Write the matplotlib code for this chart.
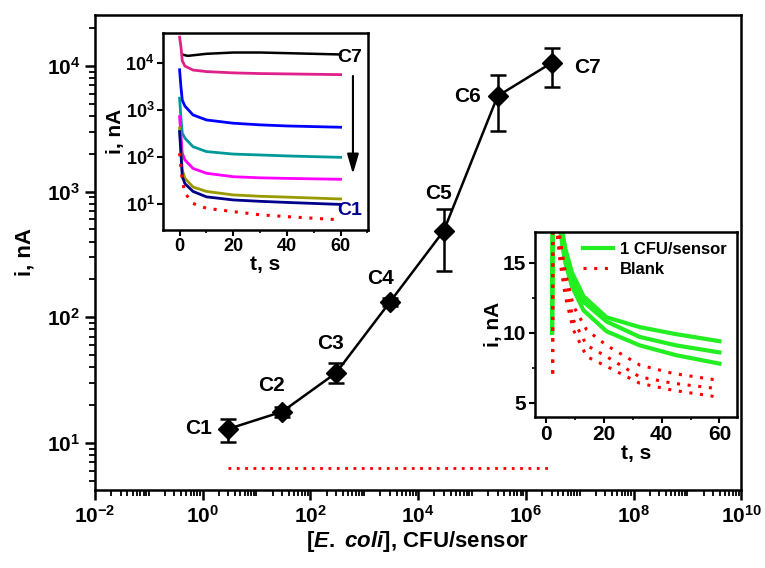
import numpy as np
import matplotlib
matplotlib.use('Agg')
import matplotlib.pyplot as plt
from matplotlib.ticker import FixedLocator, LogLocator, FuncFormatter, NullFormatter, MultipleLocator

plt.rcParams['font.family'] = ['Liberation Sans', 'DejaVu Sans']
plt.rcParams['font.weight'] = 'bold'
plt.rcParams['mathtext.fontset'] = 'custom'
plt.rcParams['mathtext.rm'] = 'Liberation Sans:bold'
plt.rcParams['mathtext.bf'] = 'Liberation Sans:bold'
plt.rcParams['mathtext.it'] = 'Liberation Sans:italic:bold'

# main calibration data
labels = ['C1', 'C2', 'C3', 'C4', 'C5', 'C6', 'C7']
conc = [3, 30, 300, 3e3, 3e4, 3e5, 3e6]
current = [12.9, 17.7, 36, 132, 487, 5750, 10550]
err_lo = [2.7, 1.6, 6, 9, 254, 2720, 3760]
err_hi = [2.6, 1.6, 7, 9, 241, 2720, 3320]
blank_x = [3, 3e6]
blank_y = [6.3, 6.3]

# inset 1: current transients C1..C7 (t in s, i in nA)
t7 = [1, 3, 10, 20, 30, 40, 50, 60]
i7 = [1.5e4, 1.4e4, 1.55e4, 1.65e4, 1.65e4, 1.6e4, 1.55e4, 1.5e4]
t_tr = [0, 0.5, 1, 2, 5, 10, 20, 30, 40, 60]
i6 = [3.5e4, 2.2e4, 1.1e4, 8.5e3, 7.0e3, 6.5e3, 6.1e3, 5.9e3, 5.8e3, 5.6e3]
i5 = [7.1e3, 3.1e3, 1.6e3, 1.2e3, 780, 610, 520, 480, 455, 427]
i4 = [1.77e3, 700, 320, 250, 165, 130, 115, 110, 105, 98]
i3 = [720, 300, 120, 86, 57, 45, 38, 36, 35, 33.5]
i2 = [410, 150, 53, 35, 23, 18.5, 15.6, 14.6, 14, 12.8]
i1 = [345, 120, 38, 27, 18.5, 14.2, 12.2, 11.4, 10.8, 9.8]
i_blank = [120, 60, 32, 17, 10.3, 8.1, 6.9, 5.9, 5.4, 4.6]
tr_colors = ['#e0208a', '#0000ff', '#009999', '#ff00ff', '#999900', '#00008b']

# inset 2: 1 CFU/sensor vs blank
tg = [2, 2.3, 4.5, 5.5, 6.6, 8.9, 12.9, 20.9, 32.4, 45, 60]
g1 = [10, 20, 19, 17.3, 16, 14.3, 12.6, 11.1, 10.4, 9.9, 9.4]
g2 = [10, 20, 18.5, 16.6, 15.3, 13.8, 12.2, 10.8, 9.7, 9.1, 8.6]
g3 = [10, 20, 18, 16.3, 15, 13.3, 11.6, 10.1, 9.1, 8.4, 7.8]
tb = [2.2, 2.3, 4.8, 6.6, 9.4, 14, 20.9, 32.4, 43.9, 60]
b1 = [7.1, 20, 16.7, 14.3, 11.9, 10.2, 9.1, 7.7, 7.1, 6.6]
b2 = [7.1, 20, 15, 12.6, 10.2, 8.3, 7.6, 6.4, 5.9, 5.4]
b3 = [7.1, 20, 16, 13.6, 10.9, 9.1, 8.3, 6.85, 6.4, 6.0]

fig = plt.figure(figsize=(7.65, 5.68), dpi=100)
ax = fig.add_axes([0.124, 0.137, 0.845, 0.837])

ax.errorbar(conc, current, yerr=[err_lo, err_hi], fmt='-D', color='black',
            lw=1.8, ms=10, capsize=6, capthick=1.8, elinewidth=1.8)
ax.plot(blank_x, blank_y, color='red', lw=2, linestyle=(0, (1, 2)))

offsets = [(-12, 0, 'right', 'center'), (-8, 12, 'center', 'bottom'),
           (-4, 14, 'center', 'bottom'), (-7, 10, 'center', 'bottom'),
           (-4, 20, 'center', 'bottom'), (-12, 0, 'right', 'center'),
           (16, -3, 'left', 'center')]
for lab, x, y, (dx, dy, ha, va) in zip(labels, conc, current, offsets):
    ax.annotate(lab, (x, y), xytext=(dx, dy), textcoords='offset points',
                ha=ha, va=va, fontsize=15, fontweight='bold')

ax.set_xscale('log')
ax.set_yscale('log')
ax.set_xlim(1e-2, 1e10)
ax.set_ylim(4.2, 2.55e4)
pow_fmt = FuncFormatter(lambda v, p: r'$\mathbf{10^{%d}}$' % round(np.log10(v)))
ax.xaxis.set_major_locator(FixedLocator([1e-2, 1, 1e2, 1e4, 1e6, 1e8, 1e10]))
ax.xaxis.set_minor_locator(LogLocator(base=10, subs=np.arange(1, 10), numticks=100))
ax.xaxis.set_major_formatter(pow_fmt)
ax.xaxis.set_minor_formatter(NullFormatter())
ax.yaxis.set_major_locator(LogLocator(base=10, numticks=20))
ax.yaxis.set_minor_locator(LogLocator(base=10, subs=np.arange(2, 10), numticks=100))
ax.yaxis.set_major_formatter(pow_fmt)
ax.yaxis.set_minor_formatter(NullFormatter())
ax.tick_params(which='major', direction='out', length=7, width=1.8, labelsize=15)
ax.tick_params(which='minor', direction='out', length=4, width=1.3)
for s in ax.spines.values():
    s.set_linewidth(1.8)
ax.set_xlabel(r'[$\mathit{E.}$ $\mathit{coli}$], CFU/sensor', fontsize=16,
              fontweight='bold', labelpad=2)
ax.set_ylabel('i, nA', fontsize=16, fontweight='bold', labelpad=8)

# inset 1
a1 = fig.add_axes([0.213, 0.595, 0.268, 0.347])
a1.plot(t7, i7, color='black', lw=1.8)
for yy, c in zip([i6, i5, i4, i3, i2, i1], tr_colors):
    a1.plot(t_tr, yy, color=c, lw=2)
a1.plot(t_tr, i_blank, color='red', lw=2.2, linestyle=(0, (1, 2.5)))
a1.set_yscale('log')
a1.set_xlim(-6.2, 70.2)
a1.set_ylim(2.8, 4.3e4)
a1.yaxis.set_major_locator(LogLocator(base=10, numticks=10))
a1.yaxis.set_minor_locator(LogLocator(base=10, subs=np.arange(2, 10), numticks=100))
a1.yaxis.set_major_formatter(pow_fmt)
a1.yaxis.set_minor_formatter(NullFormatter())
a1.xaxis.set_major_locator(MultipleLocator(20))
a1.xaxis.set_minor_locator(MultipleLocator(10))
a1.tick_params(which='major', direction='out', length=4, width=1.5, labelsize=13, pad=2)
a1.tick_params(which='minor', direction='out', length=2, width=1.2)
a1.tick_params(axis='y', which='minor', length=0)
for s in a1.spines.values():
    s.set_linewidth(1.8)
a1.set_xlabel('t, s', fontsize=15, fontweight='bold', labelpad=0)
a1.set_ylabel('i, nA', fontsize=15, fontweight='bold', labelpad=0)
a1.text(63.5, 1.3e4, 'C7', fontsize=14, fontweight='bold', ha='center', va='center')
a1.text(63.5, 7.4, 'C1', fontsize=14, fontweight='bold', ha='center', va='center',
        color='#00008b')
a1.annotate('', xy=(64.6, 38), xytext=(64.6, 6.0e3),
            arrowprops=dict(arrowstyle='-|>,head_width=0.35,head_length=1.2',
                            color='black', lw=1.5))

# inset 2
a2 = fig.add_axes([0.699, 0.266, 0.264, 0.326])
for yy in [g1, g2, g3]:
    a2.plot(tg, yy, color='#22ee22', lw=3)
for yy in [b1, b2, b3]:
    a2.plot(tb, yy, color='red', lw=2.2, linestyle=(0, (1, 2.5)))
a2.set_xlim(-4, 66)
a2.set_ylim(4.0, 17.2)
a2.xaxis.set_major_locator(MultipleLocator(20))
a2.xaxis.set_minor_locator(MultipleLocator(10))
a2.yaxis.set_major_locator(MultipleLocator(5))
a2.yaxis.set_minor_locator(MultipleLocator(2.5))
a2.tick_params(which='major', direction='out', length=4, width=1.5, labelsize=15, pad=2)
a2.tick_params(which='minor', direction='out', length=2, width=1.2)
for s in a2.spines.values():
    s.set_linewidth(1.8)
a2.set_xlabel('t, s', fontsize=15, fontweight='bold', labelpad=0)
a2.set_ylabel('i, nA', fontsize=15, fontweight='bold', labelpad=0)
h1, = a2.plot([], [], color='#22ee22', lw=3)
h2, = a2.plot([], [], color='red', lw=2.2, linestyle=(0, (1, 2.5)))
a2.legend([h1, h2], ['1 CFU/sensor', 'Blank'], loc='upper right', frameon=False,
          fontsize=12, handlelength=1.8, borderaxespad=0.2, labelspacing=0.3,
          handletextpad=0.4)

fig.savefig('out.png', dpi=100)
